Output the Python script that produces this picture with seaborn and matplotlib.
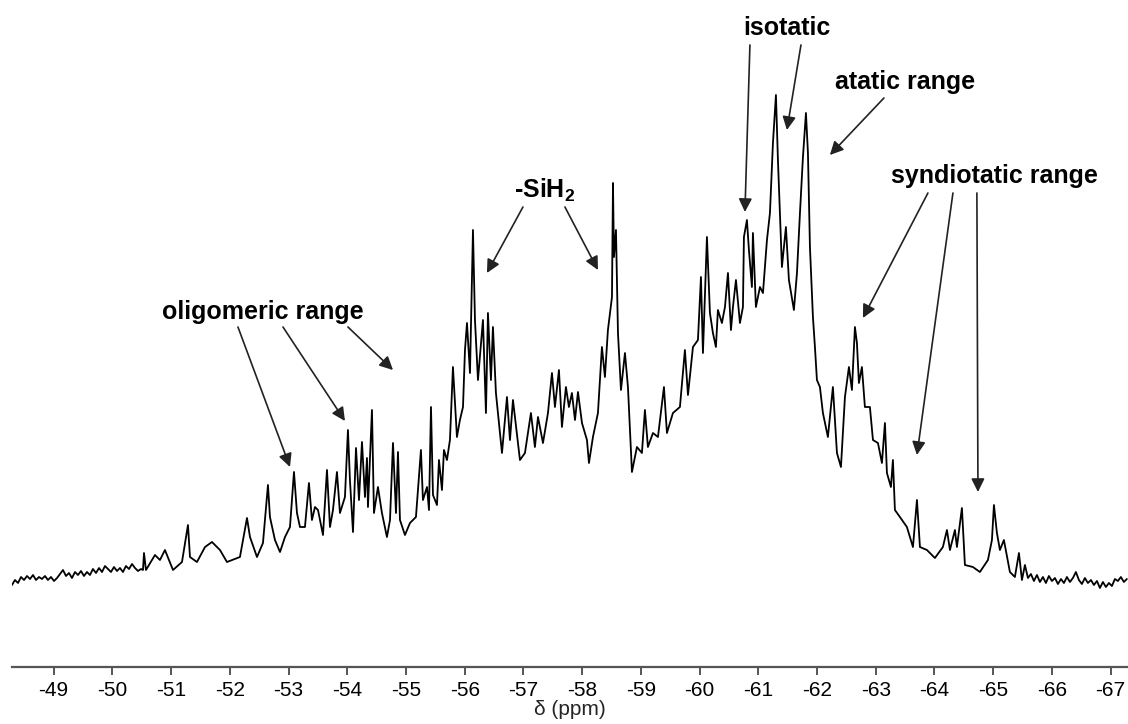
import matplotlib
matplotlib.use("Agg")
import matplotlib.pyplot as plt
import seaborn as sns
import pandas as pd

# 29Si NMR spectrum of the polysilane, as (chemical shift / ppm, intensity / a.u.)
# segments from low field to high field
left_wing = [
    (-48.291, 83), (-48.342, 88), (-48.394, 85), (-48.445, 91), (-48.496, 88),
    (-48.547, 92), (-48.598, 89), (-48.649, 93), (-48.700, 88), (-48.751, 91),
    (-48.802, 89), (-48.853, 92), (-48.904, 88), (-48.955, 91), (-49.007, 87),
    (-49.058, 90), (-49.109, 94), (-49.160, 98), (-49.211, 92), (-49.262, 95),
    (-49.313, 90), (-49.364, 96), (-49.415, 93), (-49.466, 97), (-49.517, 92),
    (-49.568, 96), (-49.619, 93), (-49.670, 99), (-49.722, 95), (-49.773, 100),
    (-49.824, 96), (-49.875, 102), (-49.926, 99), (-49.977, 96), (-50.028, 101),
    (-50.079, 97), (-50.130, 100), (-50.181, 96), (-50.232, 102), (-50.284, 99),
    (-50.335, 104), (-50.386, 100), (-50.437, 97), (-50.488, 99), (-50.522, 98),
    (-50.539, 115), (-50.573, 98), (-50.726, 113), (-50.811, 108), (-50.896, 118),
    (-51.033, 98), (-51.186, 106), (-51.288, 143), (-51.322, 111), (-51.441, 106),
    (-51.578, 121), (-51.697, 126), (-51.833, 118), (-51.952, 106), (-52.173, 111),
    (-52.293, 150), (-52.344, 131), (-52.463, 111), (-52.565, 125),
]
oligomeric = [
    (-52.650, 183), (-52.684, 151), (-52.769, 128), (-52.855, 116), (-52.940, 131),
    (-53.025, 141), (-53.093, 196), (-53.144, 155), (-53.195, 141), (-53.280, 141),
    (-53.348, 185), (-53.399, 148), (-53.451, 161), (-53.502, 158), (-53.587, 133),
    (-53.655, 198), (-53.706, 141), (-53.757, 158), (-53.825, 196), (-53.876, 155),
    (-53.961, 171), (-54.012, 238), (-54.046, 188), (-54.098, 136), (-54.149, 220),
    (-54.200, 168), (-54.251, 226), (-54.302, 171), (-54.336, 210), (-54.353, 161),
    (-54.421, 258), (-54.455, 155), (-54.523, 181), (-54.591, 155), (-54.676, 131),
    (-54.728, 148), (-54.779, 225), (-54.830, 155), (-54.864, 216), (-54.898, 148),
    (-54.983, 133), (-55.068, 145), (-55.170, 151), (-55.204, 178), (-55.255, 218),
    (-55.289, 168), (-55.358, 181), (-55.392, 158), (-55.426, 261), (-55.460, 173),
    (-55.528, 163), (-55.562, 208), (-55.613, 178), (-55.647, 218), (-55.698, 208),
    (-55.749, 228),
]
sih2_region = [
    (-55.800, 301), (-55.868, 231), (-55.919, 248), (-55.971, 261), (-56.005, 318),
    (-56.039, 345), (-56.090, 295), (-56.141, 438), (-56.175, 348), (-56.226, 288),
    (-56.311, 348), (-56.362, 255), (-56.396, 355), (-56.447, 288), (-56.481, 341),
    (-56.532, 275), (-56.635, 215), (-56.720, 271), (-56.771, 228), (-56.822, 268),
    (-56.941, 208), (-57.026, 215), (-57.128, 255), (-57.196, 221), (-57.248, 251),
    (-57.333, 225), (-57.418, 255), (-57.486, 295), (-57.537, 261), (-57.605, 298),
    (-57.656, 241), (-57.724, 281), (-57.775, 261), (-57.826, 275), (-57.878, 248),
    (-57.929, 276), (-57.997, 245), (-58.082, 228), (-58.116, 205), (-58.184, 231),
    (-58.269, 255), (-58.337, 321), (-58.388, 291), (-58.439, 338), (-58.508, 371),
    (-58.525, 485), (-58.542, 411), (-58.576, 438), (-58.610, 335), (-58.661, 278),
    (-58.729, 315), (-58.780, 281), (-58.848, 196),
]
tactic_region = [
    (-58.933, 221), (-59.018, 215), (-59.069, 258), (-59.120, 221), (-59.206, 235),
    (-59.291, 231), (-59.393, 281), (-59.444, 235), (-59.546, 255), (-59.665, 261),
    (-59.750, 318), (-59.802, 273), (-59.887, 321), (-59.972, 328), (-60.023, 391),
    (-60.057, 315), (-60.125, 431), (-60.176, 355), (-60.227, 335), (-60.278, 321),
    (-60.312, 358), (-60.380, 345), (-60.432, 361), (-60.483, 395), (-60.534, 338),
    (-60.568, 361), (-60.619, 388), (-60.687, 345), (-60.738, 361), (-60.755, 431),
    (-60.806, 448), (-60.840, 418), (-60.891, 381), (-60.908, 435), (-60.959, 361),
    (-61.028, 381), (-61.079, 375), (-61.147, 428), (-61.198, 455), (-61.249, 525),
    (-61.300, 573), (-61.334, 508), (-61.402, 401), (-61.470, 441), (-61.521, 388),
    (-61.606, 358), (-61.658, 395), (-61.709, 455), (-61.760, 511), (-61.811, 555),
    (-61.845, 515), (-61.879, 421), (-61.930, 351), (-61.964, 321), (-61.998, 288),
    (-62.049, 281), (-62.100, 255), (-62.185, 231), (-62.270, 281), (-62.339, 215),
    (-62.407, 201), (-62.475, 271), (-62.543, 301), (-62.594, 278), (-62.645, 341),
    (-62.679, 325), (-62.713, 285), (-62.764, 301), (-62.815, 261), (-62.900, 261),
    (-62.952, 228), (-63.037, 225), (-63.105, 205), (-63.156, 245), (-63.190, 195),
    (-63.258, 181), (-63.292, 208), (-63.326, 158), (-63.411, 151), (-63.530, 141),
    (-63.633, 121), (-63.701, 168), (-63.752, 121),
]
right_wing = [
    (-63.871, 118), (-64.007, 110), (-64.143, 121), (-64.212, 138), (-64.263, 118),
    (-64.348, 138), (-64.382, 121), (-64.467, 160), (-64.518, 103), (-64.654, 101),
    (-64.773, 96), (-64.910, 108), (-64.978, 128), (-65.012, 163), (-65.063, 135),
    (-65.114, 118), (-65.182, 128), (-65.284, 96), (-65.369, 91), (-65.438, 115),
    (-65.489, 88), (-65.540, 103), (-65.591, 90), (-65.642, 94), (-65.693, 87),
    (-65.744, 93), (-65.795, 86), (-65.846, 91), (-65.897, 85), (-65.948, 92),
    (-65.999, 87), (-66.051, 90), (-66.102, 84), (-66.153, 89), (-66.204, 85),
    (-66.255, 91), (-66.306, 86), (-66.357, 90), (-66.408, 96), (-66.459, 88),
    (-66.510, 84), (-66.561, 90), (-66.612, 85), (-66.664, 88), (-66.715, 83),
    (-66.766, 87), (-66.817, 80), (-66.868, 86), (-66.919, 81), (-66.970, 85),
    (-67.021, 82), (-67.072, 89), (-67.123, 87), (-67.174, 91), (-67.225, 86),
    (-67.276, 89),
]

tick_values = list(range(-49, -68, -1))
tick_labels = [str(v) for v in tick_values]

spectrum = pd.DataFrame(left_wing + oligomeric + sih2_region + tactic_region + right_wing,
                        columns=["shift", "intensity"])

sns.set_theme(style="white")
plt.rcParams["font.family"] = ["Liberation Sans", "DejaVu Sans"]
plt.rcParams["mathtext.default"] = "regular"

fig = plt.figure(figsize=(11.28, 7.24), dpi=100)
ax = fig.add_axes([11.5 / 1128, 57 / 724, 1 - 11.5 / 1128, 667 / 724])

sns.lineplot(data=spectrum, x="shift", y="intensity", ax=ax, color="black",
             linewidth=1.3, sort=False, estimator=None)

ax.set_xlim(-48.283, -67.295)
ax.set_ylim(1, 668)

for side in ("left", "top", "right"):
    ax.spines[side].set_visible(False)
ax.spines["bottom"].set_color("#555555")
ax.spines["bottom"].set_linewidth(1.6)
ax.set_yticks([])
ax.set_xticks(tick_values)
ax.set_xticklabels(tick_labels)
ax.tick_params(axis="x", direction="out", length=6, width=1.4, color="#555555",
               labelsize=15, labelcolor="black", pad=4, bottom=True)
ax.set_xlabel("δ (ppm)", fontsize=15, labelpad=0)
ax.set_ylabel("")

arrow_kw = dict(arrowstyle="-|>", color="#222222", lw=1.2, mutation_scale=20,
                shrinkA=0, shrinkB=0)
label_kw = dict(fontsize=18, fontweight="bold", ha="center", va="center", color="black")

# region labels with pointers
ax.text(-52.565, 356, "oligomeric range", **label_kw)
for start, end in [((-52.139, 341), (-53.025, 201)),
                   ((-52.906, 341), (-53.961, 247)),
                   ((-54.012, 341), (-54.779, 298))]:
    ax.annotate("", xy=end, xytext=start, arrowprops=arrow_kw)

ax.text(-57.367, 478, "-SiH$_2$", **label_kw)
for start, end in [((-56.992, 461), (-56.379, 395)),
                   ((-57.707, 461), (-58.269, 398))]:
    ax.annotate("", xy=end, xytext=start, arrowprops=arrow_kw)

ax.text(-61.487, 640, "isotatic", **label_kw)
for start, end in [((-60.857, 623), (-60.772, 456)),
                   ((-61.726, 623), (-61.487, 538))]:
    ax.annotate("", xy=end, xytext=start, arrowprops=arrow_kw)

ax.text(-63.497, 586, "atatic range", **label_kw)
ax.annotate("", xy=(-62.219, 513), xytext=(-63.139, 570), arrowprops=arrow_kw)

ax.text(-65.029, 492, "syndiotatic range", **label_kw)
for start, end in [((-63.888, 475), (-62.781, 350)),
                   ((-64.314, 475), (-63.701, 213)),
                   ((-64.722, 475), (-64.740, 176))]:
    ax.annotate("", xy=end, xytext=start, arrowprops=arrow_kw)

fig.savefig("out.png", dpi=100)
